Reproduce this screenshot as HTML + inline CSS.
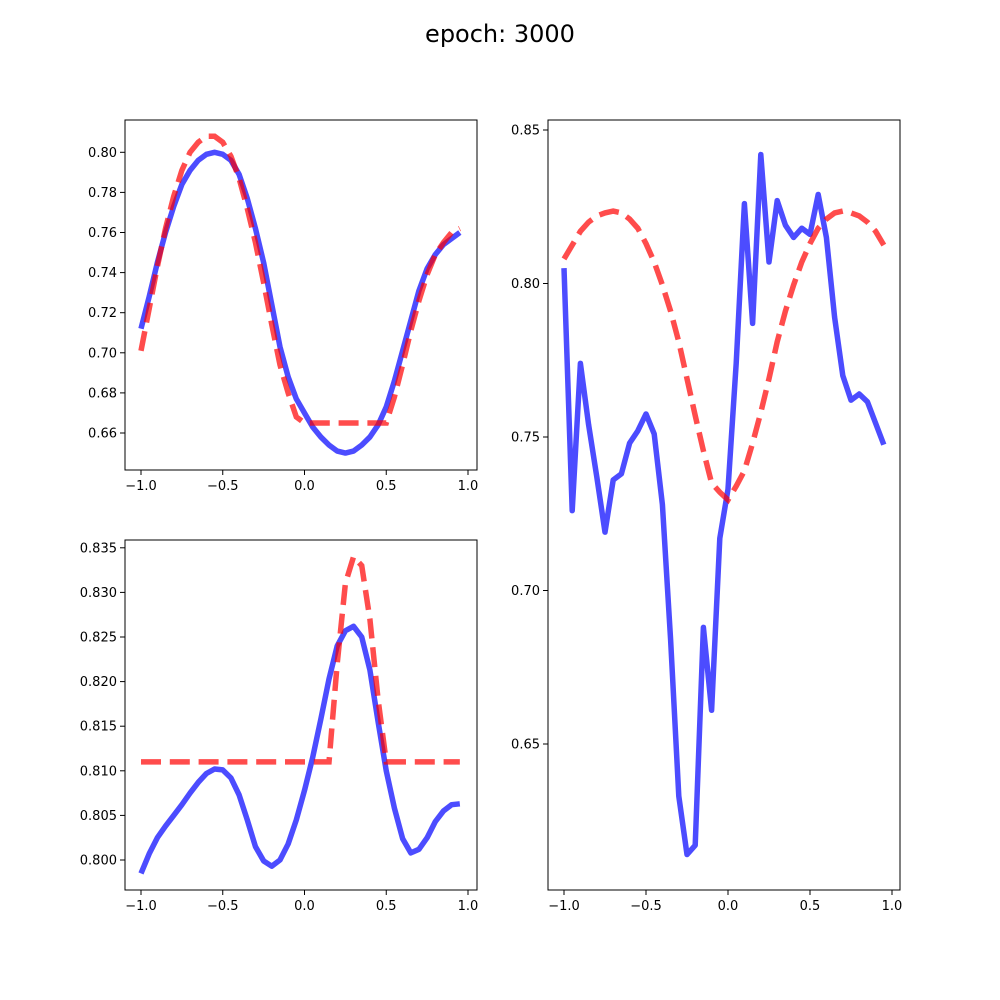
<!DOCTYPE html>
<html><head><meta charset="utf-8"><style>body{margin:0;background:#fff}svg{display:block;font-family:"DejaVu Sans","Liberation Sans",sans-serif}</style></head>
<body>
<svg id="fig" width="1000" height="1000" viewBox="0 0 1000 1000">
<rect width="1000" height="1000" fill="#fff"/>
<text x="500" y="42" text-anchor="middle" font-size="24">epoch: 3000</text>
</svg>
<script>
const xs = [-1.0,-0.95,-0.9,-0.85,-0.8,-0.75,-0.7,-0.65,-0.6,-0.55,-0.5,-0.45,-0.4,-0.35,-0.3,-0.25,-0.2,-0.15,-0.1,-0.05,0.0,0.05,0.1,0.15,0.2,0.25,0.3,0.35,0.4,0.45,0.5,0.55,0.6,0.65,0.7,0.75,0.8,0.85,0.9,0.95];
const xTicks = [-1.0,-0.5,0.0,0.5,1.0];
const xTickLabels = ["−1.0","−0.5","0.0","0.5","1.0"];
const p1Pred = [0.712,0.728,0.745,0.760,0.773,0.784,0.791,0.796,0.799,0.800,0.799,0.796,0.789,0.777,0.762,0.745,0.724,0.703,0.688,0.677,0.670,0.663,0.658,0.654,0.651,0.650,0.651,0.654,0.658,0.664,0.673,0.686,0.701,0.716,0.731,0.742,0.749,0.754,0.757,0.760];
const p1Target = [0.701,0.722,0.743,0.762,0.778,0.791,0.800,0.805,0.808,0.808,0.805,0.798,0.787,0.772,0.755,0.735,0.714,0.694,0.680,0.668,0.665,0.665,0.665,0.665,0.665,0.665,0.665,0.665,0.665,0.665,0.665,0.678,0.694,0.711,0.726,0.739,0.749,0.755,0.760,0.762];
const p1YTicks = [0.66,0.68,0.70,0.72,0.74,0.76,0.78,0.80];
const p2Pred = [0.7985,0.8007,0.8025,0.8038,0.8050,0.8062,0.8075,0.8087,0.8097,0.8102,0.8101,0.8092,0.8073,0.8045,0.8015,0.7999,0.7993,0.8000,0.8018,0.8045,0.8078,0.8115,0.8158,0.8203,0.8240,0.8257,0.8262,0.8250,0.8213,0.8155,0.8100,0.8058,0.8024,0.8008,0.8012,0.8025,0.8043,0.8055,0.8062,0.8063];
const p2Target = [0.811,0.811,0.811,0.811,0.811,0.811,0.811,0.811,0.811,0.811,0.811,0.811,0.811,0.811,0.811,0.811,0.811,0.811,0.811,0.811,0.811,0.811,0.811,0.811,0.822,0.831,0.834,0.833,0.827,0.818,0.811,0.811,0.811,0.811,0.811,0.811,0.811,0.811,0.811,0.811];
const p2YTicks = [0.800,0.805,0.810,0.815,0.820,0.825,0.830,0.835];
const p3Pred = [0.805,0.726,0.774,0.754,0.737,0.719,0.736,0.738,0.748,0.752,0.7575,0.751,0.728,0.684,0.633,0.614,0.617,0.688,0.661,0.717,0.733,0.774,0.826,0.787,0.842,0.807,0.827,0.819,0.815,0.818,0.816,0.829,0.815,0.789,0.770,0.762,0.764,0.7615,0.7545,0.7475];
const p3Target = [0.808,0.8125,0.817,0.820,0.822,0.823,0.8236,0.823,0.821,0.818,0.813,0.807,0.7995,0.791,0.781,0.769,0.757,0.7455,0.735,0.732,0.7295,0.734,0.739,0.748,0.758,0.769,0.781,0.791,0.7995,0.807,0.813,0.818,0.821,0.823,0.8236,0.823,0.822,0.820,0.817,0.8125];
const p3YTicks = [0.65,0.70,0.75,0.80,0.85];

const NS="http://www.w3.org/2000/svg", svg=document.getElementById('fig');
function mk(tag,attrs,parent){const e=document.createElementNS(NS,tag);for(const k in attrs)e.setAttribute(k,attrs[k]);(parent||svg).appendChild(e);return e;}
function panel(name,box,xr,yr,yTicks,dec,pred,target){
  const g=mk('g',{});
  
  
  const sx=v=>box.x0+(v-xr[0])/(xr[1]-xr[0])*(box.x1-box.x0);
  const sy=v=>box.y1-(v-yr[0])/(yr[1]-yr[0])*(box.y1-box.y0);
  const clip=mk('clipPath',{id:'c'+name},g);
  mk('rect',{x:box.x0,y:box.y0,width:box.x1-box.x0,height:box.y1-box.y0},clip);
  const pt=a=>a.map((v,i)=>sx(xs[i]).toFixed(2)+','+sy(v).toFixed(2)).join(' ');
  const pl=mk('polyline',{points:pt(pred),fill:'none',stroke:'#0000ff','stroke-opacity':0.7,'stroke-width':5.5,'stroke-linejoin':'round','clip-path':'url(#c'+name+')'},g);
  
  
  const tl=mk('polyline',{points:pt(target),fill:'none',stroke:'#ff0000','stroke-opacity':0.7,'stroke-width':5.5,'stroke-dasharray':'20 8.8','clip-path':'url(#c'+name+')'},g);
  
  
  const fr=mk('rect',{x:box.x0,y:box.y0,width:box.x1-box.x0,height:box.y1-box.y0,fill:'none',stroke:'#000','stroke-width':1},g);
  
  
  xTicks.forEach((t,i)=>{const x=sx(t);
    mk('line',{x1:x,x2:x,y1:box.y1,y2:box.y1+5,stroke:'#000'},g);
    const tx=mk('text',{x:x,y:box.y1+20,'text-anchor':'middle','font-size':13},g);tx.textContent=xTickLabels[i];
    
    });
  yTicks.forEach(t=>{const y=sy(t);
    mk('line',{x1:box.x0-5,x2:box.x0,y1:y,y2:y,stroke:'#000'},g);
    const tx=mk('text',{x:box.x0-8,y:y+4.5,'text-anchor':'end','font-size':13},g);tx.textContent=t.toFixed(dec);
    
    });
}
panel('top-left-panel',{x0:125,x1:477,y0:120,y1:470},[-1-(141-125)/163.5,-1+(477-141)/163.5],[0.66-(470-433)/2005,0.66+(433-120)/2005],p1YTicks,2,p1Pred,p1Target);
panel('bottom-left-panel',{x0:125,x1:477,y0:540,y1:890},[-1-(141-125)/163.5,-1+(477-141)/163.5],[0.800-(890-860)/8920,0.800+(860-540)/8920],p2YTicks,3,p2Pred,p2Target);
panel('right-panel',{x0:548,x1:900,y0:120,y1:890},[-1-(564-548)/164,-1+(900-564)/164],[0.65-(890-744)/3070,0.65+(744-120)/3070],p3YTicks,2,p3Pred,p3Target);
</script>
</body></html>
